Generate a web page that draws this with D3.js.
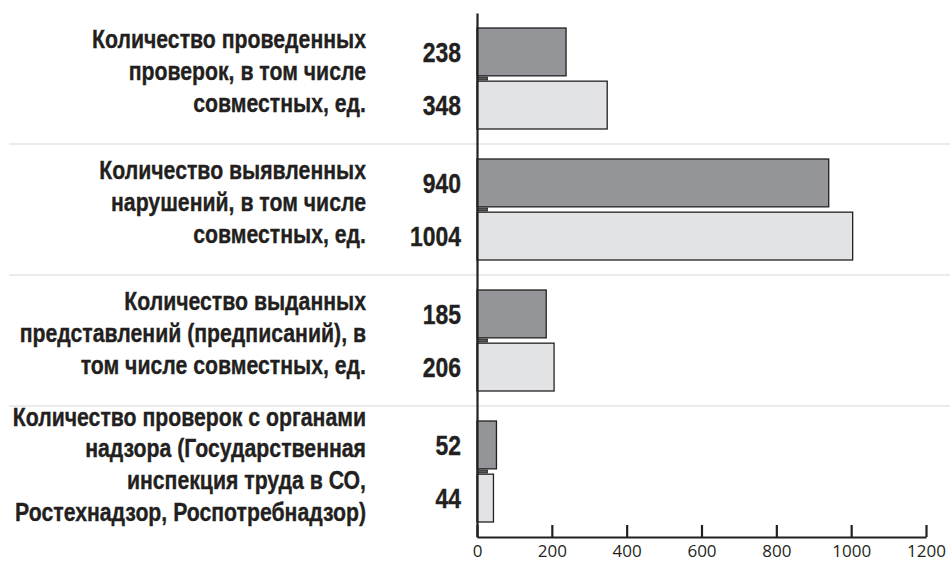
<!DOCTYPE html>
<html>
<head>
<meta charset="utf-8">
<script src="https://cdn.jsdelivr.net/npm/d3@7"></script>
<style>
  body { margin: 0; background: #fff; }
  .cat, .val { font-family: "Liberation Sans", Arial, sans-serif; font-weight: bold; fill: #231f20; stroke: #231f20; stroke-width: 0.35px; }
  .tick text { font-family: "Open Sans", sans-serif; }
</style>
</head>
<body>
<div id="root"></div>
<script>
// categories (each label split in lines as in the picture)
var categories = [
  ["Количество проведенных", "проверок, в том числе", "совместных, ед."],
  ["Количество выявленных", "нарушений, в том числе", "совместных, ед."],
  ["Количество выданных", "представлений (предписаний), в", "том числе совместных, ед."],
  ["Количество проверок с органами", "надзора (Государственная", "инспекция труда в СО,", "Ростехнадзор, Роспотребнадзор)"]
];
var seriesA = [238, 940, 185, 52];    // dark bars
var seriesB = [348, 1004, 206, 44];   // light bars
var seriesStub = [28, 28, 28, 28];    // small dark stub between the bars
var xTicks = [0, 200, 400, 600, 800, 1000, 1200];

var width = 950, height = 563;
var squeeze = 0.85;   // no condensed font installed, so narrow the bold face

var svg = d3.select("#root")
    .append("svg")
    .attr("width", width)
    .attr("height", height);

var keys = categories.map(function (d, i) { return "c" + i; });

var x = d3.scaleLinear()
    .domain([0, 1200])
    .range([477, 926]);

var y = d3.scaleBand()
    .domain(keys)
    .range([13, 537]);

var y1 = d3.scaleBand()
    .domain(["a", "b"])
    .range([15, 116])
    .paddingInner(0.1);

// light separators between groups
svg.append("g")
    .selectAll("line")
    .data(keys.slice(1))
    .join("line")
    .attr("x1", 9)
    .attr("x2", 950)
    .attr("y1", function (d) { return y(d); })
    .attr("y2", function (d) { return y(d); })
    .attr("stroke", "#e4e4e4")
    .attr("stroke-width", 1.5);

// bars
var groups = svg.append("g")
    .selectAll("g")
    .data(keys)
    .join("g")
    .attr("transform", function (d) { return "translate(0," + y(d) + ")"; });

groups.append("rect")
    .attr("x", x(0))
    .attr("y", y1("a"))
    .attr("width", function (d, i) { return x(seriesA[i]) - x(0); })
    .attr("height", y1.bandwidth())
    .attr("fill", "#939598")
    .attr("stroke", "#231f20")
    .attr("stroke-width", 1.3);

groups.append("rect")
    .attr("x", x(0))
    .attr("y", y1("b"))
    .attr("width", function (d, i) { return x(seriesB[i]) - x(0); })
    .attr("height", y1.bandwidth())
    .attr("fill", "#e2e3e4")
    .attr("stroke", "#231f20")
    .attr("stroke-width", 1.3);

groups.append("rect")
    .attr("x", x(0))
    .attr("y", (y1("a") + y1.bandwidth() + y1("b")) / 2 - 1.5)
    .attr("width", function (d, i) { return x(seriesStub[i]) - x(0); })
    .attr("height", 3)
    .attr("fill", "#58595b")
    .attr("stroke", "#231f20")
    .attr("stroke-width", 0.8);

// value labels
function valueLabel(series, key) {
    groups.append("text")
        .attr("class", "val")
        .attr("transform", "translate(461," + (y1(key) + y1.bandwidth() / 2) + ") scale(" + squeeze + ",1)")
        .attr("dy", "0.36em")
        .attr("text-anchor", "end")
        .style("font-size", "27px")
        .text(function (d, i) { return series[i]; });
}
valueLabel(seriesA, "a");
valueLabel(seriesB, "b");

// category labels
var lh = 32;
groups.append("text")
    .attr("class", "cat")
    .attr("text-anchor", "end")
    .attr("transform", "translate(366,0) scale(" + squeeze + ",1)")
    .style("font-size", "25px")
    .each(function (d, i) {
        var lines = categories[i];
        var c = y.bandwidth() / 2;
        var t = d3.select(this);
        lines.forEach(function (s, k) {
            t.append("tspan")
                .attr("x", 0)
                .attr("y", c + (k - (lines.length - 1) / 2) * lh + 2)
                .text(s);
        });
    });

// vertical axis
svg.append("g")
    .attr("transform", "translate(" + x(0) + ",0)")
    .call(d3.axisLeft(y).tickSize(0).tickFormat(""))
    .call(function (g) {
        g.select(".domain").attr("stroke", "#231f20").attr("stroke-width", 2.2);
    });

// bottom axis, ticks pointing up
svg.append("g")
    .attr("transform", "translate(0,537)")
    .call(d3.axisBottom(x).tickValues(xTicks).tickFormat(d3.format("d"))
        .tickSizeInner(-12).tickSizeOuter(0).tickPadding(8))
    .call(function (g) {
        g.select(".domain").attr("stroke", "#231f20").attr("stroke-width", 2.2);
        g.selectAll(".tick line").attr("stroke", "#231f20").attr("stroke-width", 2.2);
        g.selectAll(".tick text").attr("fill", "#231f20").style("font-size", "17px");
    });
</script>
</body>
</html>
